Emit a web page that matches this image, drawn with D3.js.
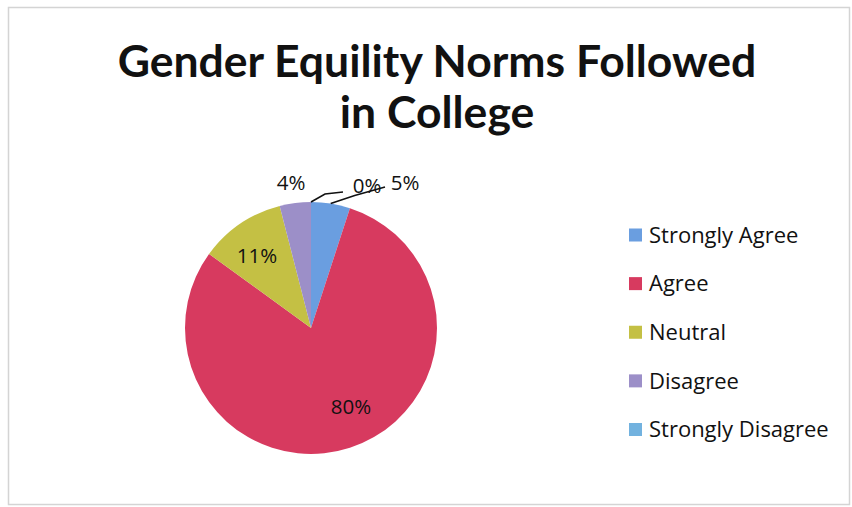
<!DOCTYPE html>
<html><head><meta charset="utf-8">
<script src="https://cdn.jsdelivr.net/npm/d3@7"></script>
<style>body{margin:0;background:#fff}svg{display:block}</style>
</head><body>
<svg id="c" width="852" height="507"></svg>
<script>
const categories = ["Strongly Agree","Agree","Neutral","Disagree","Strongly Disagree"];
const values = [5, 80, 11, 4, 0];
const labels = ["5%","80%","11%","4%","0%"];
const colors = ["#6a9ee0","#d73a5f","#c4c044","#9c8fc8","#72b2df"];

const svg = d3.select("#c");
const font = "Lato, 'Open Sans', sans-serif";
const font2 = "'Open Sans', sans-serif";
svg.append("rect").attr("x",8.5).attr("y",7.5).attr("width",841).attr("height",497)
  .attr("fill","#fff").attr("stroke","#d4d4d4").attr("stroke-width",1.5);

svg.append("text").attr("x",437).attr("y",77).attr("text-anchor","middle")
  .attr("font-family",font).attr("font-weight","bold").attr("font-size",44.5).attr("fill","#111")
  .text("Gender Equility Norms Followed");
svg.append("text").attr("x",437).attr("y",128).attr("text-anchor","middle")
  .attr("font-family",font).attr("font-weight","bold").attr("font-size",44.5).attr("fill","#111")
  .text("in College");

const cx = 311, cy = 328, r = 126;
const pie = d3.pie().sort(null).value(d=>d)(values);
const arc = d3.arc().innerRadius(0).outerRadius(r);
const g = svg.append("g").attr("transform",`translate(${cx},${cy})`);
g.selectAll("path").data(pie).join("path").attr("d",arc).attr("fill",(d,i)=>colors[i]);

const lab = g.append("g").attr("font-family",font2).attr("font-size",20.5).attr("fill","#111").attr("text-anchor","middle");
const outPos = {0:[94,-145], 3:[-20,-145], 4:[56,-142]};
pie.forEach((d,i)=>{
  let p;
  if (outPos[i]) {
    p = outPos[i];
    if (i !== 3) {
      const a = (d.startAngle + d.endAngle)/2;
      const e = [Math.sin(a)*r, -Math.cos(a)*r];
      const mid = i===0 ? [e[0]+24,e[1]-8] : [e[0]+14, e[1]-8];
      g.append("polyline").attr("points",[e, mid, [p[0]-(i===0?20:24), p[1]+(i===0?4:6)]].map(q=>q.join(",")).join(" "))
        .attr("fill","none").attr("stroke","#111").attr("stroke-width",1.6);
    }
  } else {
    p = i===1 ? [40,79] : [-54,-72];
  }
  lab.append("text").attr("x",p[0]).attr("y",p[1]).attr("dy","0.35em").text(labels[i]);
});

const leg = svg.append("g").attr("font-family",font2).attr("font-size",22).attr("fill","#111");
const ly = d3.scalePoint().domain(categories).range([235,429.5]);
categories.forEach((c,i)=>{
  leg.append("rect").attr("x",629).attr("y",ly(c)-6.5).attr("width",13).attr("height",13).attr("fill",colors[i]);
  leg.append("text").attr("x",649).attr("y",ly(c)).attr("dy","0.35em").text(c);
});
</script>
</body></html>
